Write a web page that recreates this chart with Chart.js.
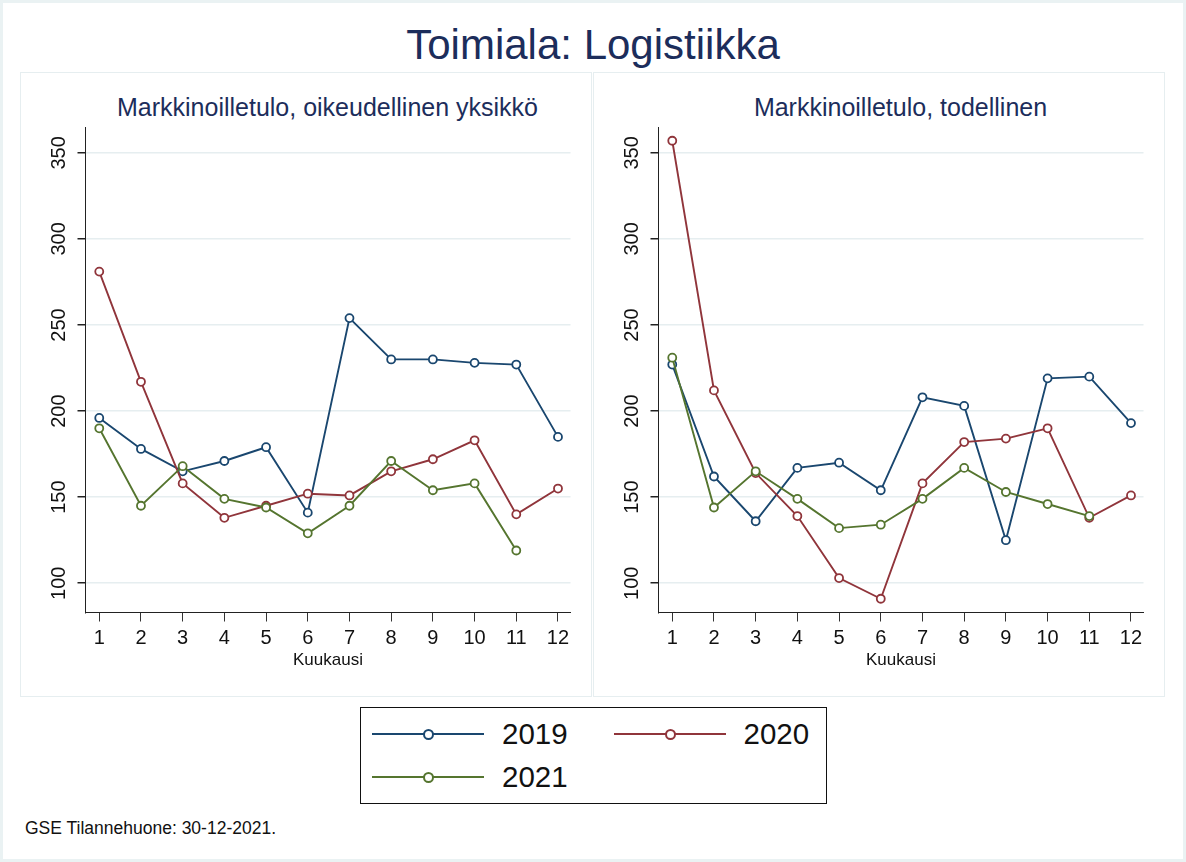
<!DOCTYPE html>
<html lang="fi">
<head>
<meta charset="utf-8">
<title>Toimiala: Logistiikka</title>
<script src="https://cdn.jsdelivr.net/npm/chart.js@4"></script>
<style>
  html, body { margin: 0; padding: 0; }
  body {
    width: 1186px; height: 862px; position: relative; overflow: hidden;
    background: #fff; font-family: "Liberation Sans", Arial, sans-serif;
  }
  .frame { position: absolute; left: 0; top: 0; width: 1186px; height: 862px;
    box-sizing: border-box; border: 3px solid #eaf2f3; }
  #title { position: absolute; left: 0; width: 1186px; top: 20px; text-align: center;
    font-size: 42px; color: #1c2d5b; line-height: 50px; }
  .panel { position: absolute; top: 72px; width: 572px; height: 625px;
    box-sizing: border-box; border: 1px solid #e6eef0; }
  .wrap { position: absolute; top: 72px; width: 572px; height: 625px; }
  .sub { position: absolute; top: 92px; width: 485px; text-align: center;
    font-size: 25px; color: #1c2d5b; line-height: 30px; white-space: nowrap; }
  #legend { position: absolute; left: 360px; top: 707px; width: 467px; height: 97px;
    box-sizing: border-box; border: 1.5px solid #111; }
  .key { position: absolute; height: 30px; }
  .key .ln { position: absolute; left: 0; top: 14px; width: 112px; height: 2px; }
  .key .mk { position: absolute; left: 51px; top: 10px; width: 7px; height: 7px;
    border-radius: 50%; background: #fff; border: 2px solid; }
  .key .tx { position: absolute; left: 130px; top: -3px; font-size: 29.5px; color: #111;
    line-height: 36px; }
  #note { position: absolute; left: 25px; top: 818px; font-size: 17.5px; color: #111; }
</style>
</head>
<body>
<div class="frame"></div>
<div id="title">Toimiala: Logistiikka</div>

<div class="panel" style="left:20px"></div>
<div class="panel" style="left:593px"></div>
<div class="sub" style="left:85px">Markkinoilletulo, oikeudellinen yksikkö</div>
<div class="sub" style="left:658px">Markkinoilletulo, todellinen</div>
<div class="wrap" style="left:20px"><canvas id="oikeudellinen"></canvas></div>
<div class="wrap" style="left:593px"><canvas id="todellinen"></canvas></div>

<div id="legend"></div>
<div id="note">GSE Tilannehuone: 30-12-2021.</div>

<script>
// Kuukaudet ja sarjat (luettu kuvasta)
const kuukaudet = [1, 2, 3, 4, 5, 6, 7, 8, 9, 10, 11, 12];
const yTicks = [100, 150, 200, 250, 300, 350];
const vuodet = ['2019', '2020', '2021'];
const varit = ['#1a476f', '#90353b', '#55752f'];

// Markkinoilletulo, oikeudellinen yksikkö
const oik2019 = [196, 178, 165, 171, 179, 141, 254, 230, 230, 228, 227, 185];
const oik2020 = [281, 217, 158, 138, 145, 152, 151, 165, 172, 183, 140, 155];
const oik2021 = [190, 145, 168, 149, 144, 129, 145, 171, 154, 158, 119];

// Markkinoilletulo, todellinen
const tod2019 = [227, 162, 136, 167, 170, 154, 208, 203, 125, 219, 220, 193];
const tod2020 = [357, 212, 164, 139, 103, 91, 158, 182, 184, 190, 138, 151];
const tod2021 = [231, 144, 165, 149, 132, 134, 149, 167, 153, 146, 139];

const fontti = '"Liberation Sans", Arial, sans-serif';

function sarja(i, arvot) {
  return {
    label: vuodet[i],
    data: arvot.map((v, k) => ({ x: kuukaudet[k], y: v })),
    borderColor: varit[i],
    borderWidth: 1.9,
    pointRadius: 4,
    pointBorderWidth: 1.8,
    pointBackgroundColor: '#fff',
    pointBorderColor: varit[i],
    order: 3 - i,
    tension: 0
  };
}

function piirra(id, s19, s20, s21) {
  new Chart(document.getElementById(id), {
    type: 'line',
    data: { datasets: [sarja(0, s19), sarja(1, s20), sarja(2, s21)] },
    options: {
      responsive: true,
      maintainAspectRatio: false,
      animation: false,
      layout: { padding: { top: 55, right: 21.5, bottom: 24.5, left: 0 } },
      plugins: { legend: { display: false }, tooltip: { enabled: false } },
      scales: {
        x: {
          type: 'linear',
          min: 0.67,
          max: 12.3,
          afterBuildTicks: s => { s.ticks = kuukaudet.map(v => ({ value: v })); },
          afterFit: s => { s.height = 60; },
          grid: { drawOnChartArea: false, drawTicks: true, tickLength: 9, tickColor: '#333' },
          border: { display: true, color: '#222', width: 1 },
          ticks: { color: '#111', font: { family: fontti, size: 20 }, padding: 5,
                   maxRotation: 0, autoSkip: false },
          title: { display: true, text: 'Kuukausi', color: '#111',
                   font: { family: fontti, size: 17 }, padding: { top: 0, bottom: 2 } }
        },
        y: {
          min: 83,
          max: 365,
          afterBuildTicks: s => { s.ticks = yTicks.map(v => ({ value: v })); },
          afterFit: s => { s.width = 65.5; },
          grid: { color: '#e6eef0', lineWidth: 1.5, tickLength: 8, tickColor: '#222' },
          border: { display: true, color: '#222', width: 1 },
          ticks: { color: '#111', font: { family: fontti, size: 20 }, padding: 1,
                   minRotation: 90, maxRotation: 90, crossAlign: 'center' }
        }
      }
    }
  });
}

piirra('oikeudellinen', oik2019, oik2020, oik2021);
piirra('todellinen', tod2019, tod2020, tod2021);

// Yhteinen selite
const sijainnit = [[11, 26], [252.5, 26], [11, 68.5]];
const legend = document.getElementById('legend');
vuodet.forEach((v, i) => {
  const k = document.createElement('div');
  k.className = 'key';
  k.style.left = sijainnit[i][0] + 'px';
  k.style.top = (sijainnit[i][1] - 15) + 'px';
  k.innerHTML = '<div class="ln" style="background:' + varit[i] + '"></div>' +
    '<div class="mk" style="border-color:' + varit[i] + '"></div>' +
    '<div class="tx">' + v + '</div>';
  legend.appendChild(k);
});
</script>
</body>
</html>
